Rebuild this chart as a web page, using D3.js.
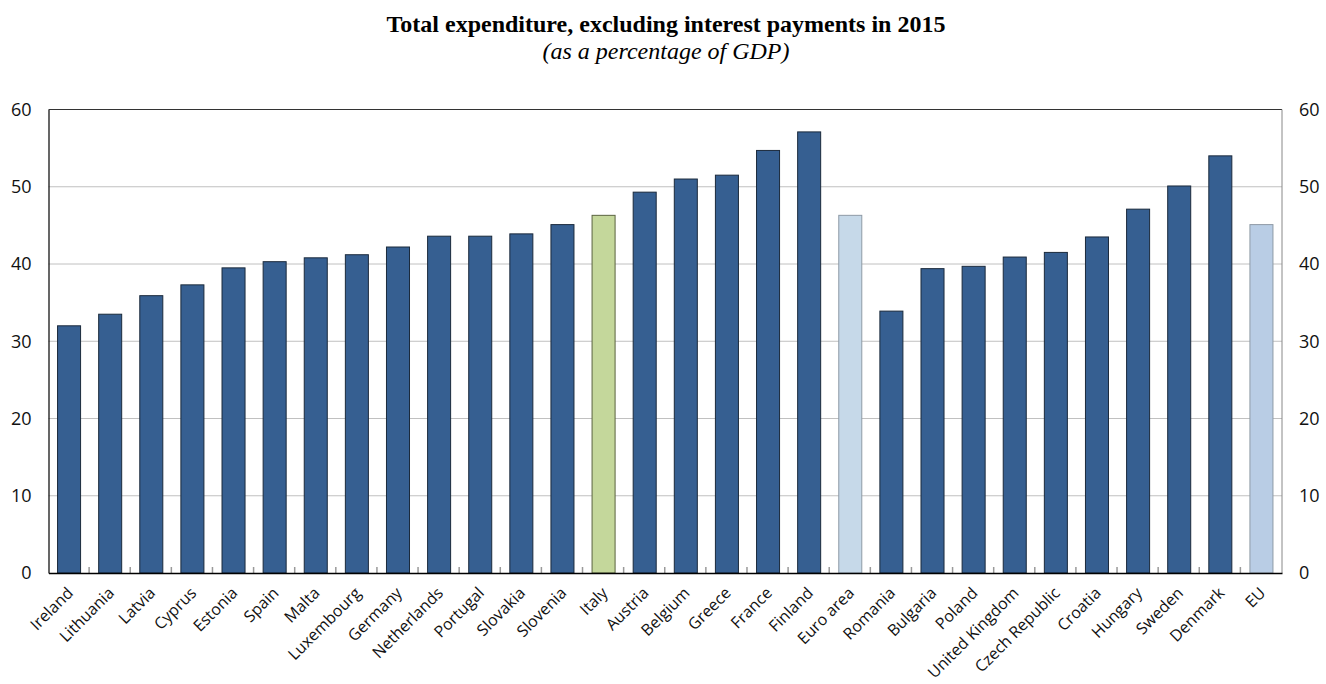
<!DOCTYPE html>
<html>
<head>
<meta charset="utf-8">
<script src="https://cdn.jsdelivr.net/npm/d3@7"></script>
<style>
    body { margin: 0; background: #fff; }
    text { font-family: "Open Sans", sans-serif; }
</style>
</head>
<body>
<div id="chart"></div>
<script>
// Chart data
let countries = ["Ireland", "Lithuania", "Latvia", "Cyprus", "Estonia", "Spain", "Malta", "Luxembourg",
    "Germany", "Netherlands", "Portugal", "Slovakia", "Slovenia", "Italy", "Austria", "Belgium", "Greece",
    "France", "Finland", "Euro area", "Romania", "Bulgaria", "Poland", "United Kingdom", "Czech Republic",
    "Croatia", "Hungary", "Sweden", "Denmark", "EU"];
let expenditure = [32.0, 33.5, 35.9, 37.3, 39.5, 40.3, 40.8, 41.2, 42.2, 43.6, 43.6, 43.9, 45.1, 46.3,
    49.3, 51.0, 51.5, 54.7, 57.1, 46.3, 33.9, 39.4, 39.7, 40.9, 41.5, 43.5, 47.1, 50.1, 54.0, 45.1];
let yTicks = [0, 10, 20, 30, 40, 50, 60];

let width = 1326, height = 684;
let margin = {top: 109.5, right: 44, bottom: 111, left: 48.5};
let innerW = width - margin.left - margin.right,
    innerH = height - margin.top - margin.bottom;

let svg = d3.select("#chart")
    .append("svg")
    .attr("width", width)
    .attr("height", height);

// Title
svg.append("text")
    .attr("x", 666).attr("y", 32)
    .attr("text-anchor", "middle")
    .style("font-family", "'Liberation Serif', serif")
    .style("font-weight", "bold")
    .style("font-size", "24px")
    .text("Total expenditure, excluding interest payments in 2015");
svg.append("text")
    .attr("x", 666).attr("y", 59)
    .attr("text-anchor", "middle")
    .style("font-family", "'Liberation Serif', serif")
    .style("font-style", "italic")
    .style("font-size", "24px")
    .text("(as a percentage of GDP)");

let g = svg.append("g")
    .attr("transform", "translate(" + margin.left + "," + margin.top + ")");

let xScale = d3.scaleBand().domain(countries).range([0, innerW]).paddingInner(0.44).paddingOuter(0.22);
let yScale = d3.scaleLinear().domain([0, 60]).range([innerH, 0]);

// Gridlines
g.selectAll(".grid")
    .data(yTicks.filter(d => d > 0 && d < 60))
    .enter().append("line")
    .attr("x1", 0).attr("x2", innerW)
    .attr("y1", d => yScale(d)).attr("y2", d => yScale(d))
    .attr("stroke", "#c0c0c0")
    .attr("stroke-width", 1);

// Frame: top and right
g.append("line").attr("x1", 0).attr("x2", innerW).attr("y1", 0).attr("y2", 0)
    .attr("stroke", "#333").attr("stroke-width", 1);
g.append("line").attr("x1", innerW).attr("x2", innerW).attr("y1", 0).attr("y2", innerH)
    .attr("stroke", "#888").attr("stroke-width", 1);

// Separator ticks between categories
let step = xScale.step();
g.selectAll(".sep")
    .data(countries.slice(1))
    .enter().append("line")
    .attr("x1", d => xScale(d) - step * 0.22 - 0.5)
    .attr("x2", d => xScale(d) - step * 0.22 - 0.5)
    .attr("y1", innerH - 6).attr("y2", innerH)
    .attr("stroke", "#999")
    .attr("stroke-width", 1.5);

function barFill(d) {
    if (d === "Italy") return "#c4d79b";
    if (d === "Euro area") return "#c6d9e9";
    if (d === "EU") return "#b9cde5";
    return "#365f91";
}
function barStroke(d) {
    if (d === "Italy") return "#5a6340";
    if (d === "Euro area" || d === "EU") return "#8e9aa6";
    return "#1b2a3c";
}

g.selectAll(".bar")
    .data(countries)
    .enter().append("rect")
    .attr("class", "bar")
    .attr("x", d => xScale(d))
    .attr("y", (d, i) => yScale(expenditure[i]))
    .attr("width", xScale.bandwidth())
    .attr("height", (d, i) => innerH - yScale(expenditure[i]))
    .attr("fill", d => barFill(d))
    .attr("stroke", d => barStroke(d))
    .attr("stroke-width", 1);

// Left axis
let leftAxis = g.append("g")
    .call(d3.axisLeft(yScale).tickValues(yTicks).tickSize(0).tickPadding(17));
leftAxis.select(".domain").attr("stroke", "#000").attr("stroke-width", 1.2);
leftAxis.selectAll("text").style("font-size", "18px").attr("fill", "#111");

// Right axis
let rightAxis = g.append("g")
    .attr("transform", "translate(" + innerW + ",0)")
    .call(d3.axisRight(yScale).tickValues(yTicks).tickSize(0).tickPadding(17));
rightAxis.select(".domain").remove();
rightAxis.selectAll("text").style("font-size", "18px").attr("fill", "#111");

// Bottom axis
let bottomAxis = g.append("g")
    .attr("transform", "translate(0," + innerH + ")")
    .call(d3.axisBottom(xScale).tickSize(0));
bottomAxis.select(".domain").attr("stroke", "#000").attr("stroke-width", 1.5);
bottomAxis.selectAll("text")
    .style("font-size", "16px")
    .attr("fill", "#111")
    .attr("text-anchor", "end")
    .attr("y", 0)
    .attr("dy", 0)
    .attr("transform", "translate(5,21) rotate(-45)");
</script>
</body>
</html>
